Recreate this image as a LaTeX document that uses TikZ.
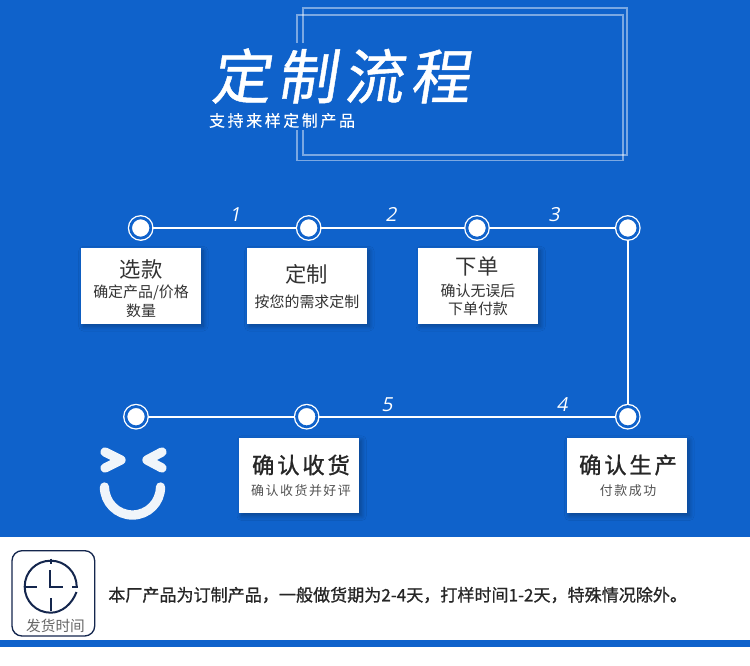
\documentclass[tikz,border=0pt]{standalone}
\usepackage{fontspec}
\usetikzlibrary{shadows,shadows.blur}
\setmainfont{Noto Sans CJK SC}
\newfontfamily\cjktitle[FakeSlant=0.16,FakeBold=0.8,LetterSpace=12]{Noto Sans CJK SC}
\newfontfamily\cjksub[LetterSpace=16,FakeBold=0.3]{Noto Sans CJK SC}
\newfontfamily\cjk{Noto Sans CJK SC}
\newfontfamily\cjkwide[LetterSpace=12]{Noto Sans CJK SC}
\newfontfamily\cjkbold[FakeBold=1.2,LetterSpace=13]{Noto Sans CJK SC}
\newfontfamily\cjkmed[FakeBold=0.9]{Noto Sans CJK SC}
\newfontfamily\numfont[FakeSlant=0.2]{Open Sans}
\definecolor{bluebg}{HTML}{0F62CB}
\definecolor{navy}{HTML}{14264D}
\definecolor{smile}{HTML}{F0F5FA}
\definecolor{inktext}{HTML}{333333}
\newcommand{\fs}[1]{\fontsize{#1}{#1}\selectfont}
\tikzset{
  frameline/.style={draw=white,draw opacity=.45,line width=.9pt},
  track/.style={draw=white,line width=1.5pt},
  stopdot/.style={circle,fill=white,draw=white,double=bluebg,line width=1pt,double distance=2.1pt,minimum size=15.2pt,inner sep=0pt,outer sep=1.1pt},
  card/.style={fill=white,minimum width=90pt,minimum height=56.6pt,inner sep=0pt,
    blur shadow={shadow xshift=2pt,shadow yshift=-2pt,shadow blur steps=8,shadow blur radius=3.5pt,shadow opacity=30}},
  head/.style={text=inktext,font=\cjk\fs{16},inner sep=0pt},
  sub/.style={text=inktext,font=\cjk\fs{11.2},inner sep=0pt},
  headb/.style={text=black!85,font=\cjkbold\fs{16.7},inner sep=0pt},
  subw/.style={text=inktext!85,font=\cjkwide\fs{9.7},inner sep=0pt},
  stepnum/.style={text=white,font=\numfont\fs{14.5},inner sep=0pt},
  smileline/.style={draw=smile,line width=7pt,line cap=round,line join=round},
  clockline/.style={draw=navy,line width=1.5pt},
}
\begin{document}
\begin{tikzpicture}[x=.75pt,y=-.75pt]
\useasboundingbox (0,0) rectangle (750,666);
\fill[white] (0,0) rectangle (750,666);
\fill[bluebg] (0,0) rectangle (750,537);
\fill[bluebg] (0,640) rectangle (750,647);
% frames
\draw[frameline] (303,43) -- (303,8) -- (627,8) -- (627,155) -- (303,155) -- (303,130);
\draw[frameline] (297,43) -- (297,15) -- (623,15) -- (623,160.5) -- (297,160.5) -- (297,130);
% title
\node[text=white,font=\cjktitle\fs{44.5},inner sep=0pt] (title) at (340,76) {定制流程};
\node[text=white,font=\cjksub\fs{12},inner sep=0pt] (subtitle) at (282,120.5) {支持来样定制产品};
% stops
\node[stopdot] (s1) at (140.7,228) {};
\node[stopdot] (s2) at (308.7,228) {};
\node[stopdot] (s3) at (477,228) {};
\node[stopdot] (s4) at (627.8,228) {};
\node[stopdot] (s5) at (627.8,416.7) {};
\node[stopdot] (s6) at (306.7,416.7) {};
\node[stopdot] (s7) at (136,416.7) {};
\draw[track] (s1) -- (s2);
\draw[track] (s2) -- (s3);
\draw[track] (s3) -- (s4);
\draw[track] (s4) -- (s5);
\draw[track] (s5) -- (s6);
\draw[track] (s6) -- (s7);
% numbers
\node[stepnum] (n1) at (235,215) {1};
\node[stepnum] (n2) at (391,215) {2};
\node[stepnum] (n3) at (554,215) {3};
\node[stepnum] (n5) at (387,405) {5};
\node[stepnum] (n4) at (562,405) {4};
% cards
\node[card] (c1) at (140.7,286) {};
\node[head] (c1h) at (141,269) {选款};
\node[sub] (c1a) at (141,293) {确定产品/价格};
\node[sub] (c1b) at (141,311) {数量};
\node[card] (c2) at (306.7,286) {};
\node[head] (c2h) at (306.7,274) {定制};
\node[sub] (c2a) at (307,301.5) {按您的需求定制};
\node[card] (c3) at (478,286) {};
\node[head] (c3h) at (477,266) {下单};
\node[sub] (c3a) at (478,291) {确认无误后};
\node[sub] (c3b) at (478,309) {下单付款};
\node[card] (c4) at (299,475.5) {};
\node[headb] (c4h) at (301,465) {确认收货};
\node[subw] (c4a) at (301,491) {确认收货并好评};
\node[card] (c5) at (626.7,475.5) {};
\node[headb] (c5h) at (628,465) {确认生产};
\node[subw] (c5a) at (628,490.7) {付款成功};
% smiley
\draw[smileline] (105,452) -- (121,460) -- (105,468);
\draw[smileline] (162,452) -- (147,460) -- (162,468);
\draw[smileline] (104.5,487) .. controls (104.5,502.5) and (117,515) .. (132.5,515) .. controls (148,515) and (160.5,502.5) .. (160.5,487);
% icon
\draw[draw=navy,line width=1pt,rounded corners=7.5pt] (12,550.7) rectangle (94.7,636);
\draw[clockline] (76.5,592) .. controls (72,604) and (62,612.7) .. (50.7,612.7) .. controls (36,612.7) and (24.7,601) .. (24.7,586.7) .. controls (24.7,572) and (36,560.7) .. (50.7,560.7) .. controls (65,560.7) and (76.7,572) .. (76.7,586.7);
\draw[clockline] (50.7,558.5) -- (50.7,564);
\draw[clockline] (25,586.7) -- (37,586.7);
\draw[clockline] (50.7,598) -- (50.7,611);
\draw[clockline] (72,586.7) -- (78,586.7);
\draw[clockline] (50,570) -- (50,587) -- (63,587);
\node[text=black!60,font=\cjk\fs{11},inner sep=0pt] (icontext) at (55.5,625.5) {发货时间};
\node[text=black!85,font=\cjkmed\fs{12.8},inner sep=0pt,anchor=west] (note) at (108,595) {本厂产品为订制产品，一般做货期为2-4天，打样时间1-2天，特殊情况除外。};
\end{tikzpicture}
\end{document}
